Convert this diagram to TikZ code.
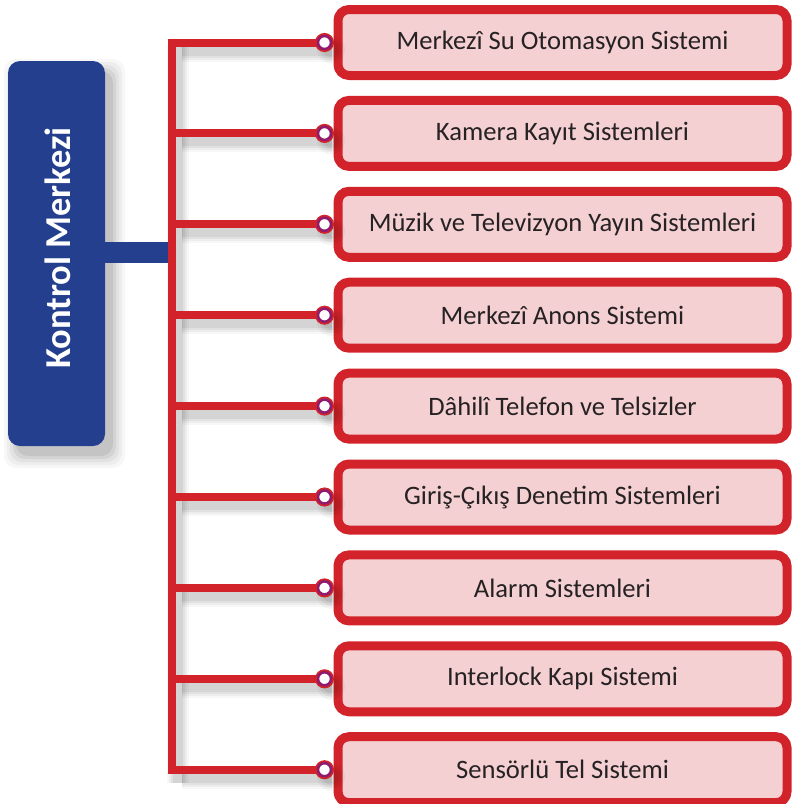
\documentclass[tikz,border=0pt]{standalone}
\usepackage{fontspec}
\setmainfont{Carlito}
\definecolor{kblue}{RGB}{35,63,142}
\definecolor{kred}{RGB}{210,35,42}
\definecolor{kpink}{RGB}{245,208,211}
\definecolor{kpurple}{RGB}{142,27,110}
\definecolor{ktext}{RGB}{38,34,35}
\begin{document}
\begin{tikzpicture}[x=1pt,y=-1pt,
  itembox/.style={draw=kred, line width=9pt, fill=kpink, rounded corners=11pt,
    minimum width=449pt, minimum height=66pt, inner sep=0pt, text=ktext,
    font=\fontsize{26.6}{30}\selectfont},
  knob/.style={circle, inner sep=0pt, minimum size=13pt, fill=white,
    draw=kpurple, line width=2.5pt, preaction={draw=kred, line width=6pt}},
  redline/.style={draw=kred, line width=8pt},
  hubbox/.style={fill=kblue, rounded corners=12pt, minimum width=97pt,
    minimum height=385pt, inner sep=0pt},
  hubtext/.style={rotate=90, text=white, inner sep=0pt,
    font=\bfseries\fontsize{36.5}{40}\selectfont},
]
\useasboundingbox (0,0) rectangle (792,804);

% shadow of the hub box
\foreach \e/\o in {0/0.08,3/0.06,6/0.05,9/0.04,12/0.03}{
  \fill[black, opacity=\o, rounded corners=12pt]
    (16-\e,71-\e) rectangle (113+\e,456+\e);
}
% shadow of connector lines
\begin{scope}[shift={(6,8)}]
  \foreach \w/\o in {22/0.03,18/0.04,14/0.05,10/0.06}{
    \draw[black, opacity=\o, line width=\w pt] (172,38) -- (172,775);
    \foreach \i in {1,...,9}{
      \pgfmathsetmacro{\yy}{42.5+90.9*(\i-1)}
      \draw[black, opacity=\o, line width=\w pt] (176,\yy) -- (326,\yy);
    }
  }
\end{scope}

% hub
\node[hubbox] (km) at (56.5,253.5) {};
\node[hubtext] (kt) at (58,248) {Kontrol Merkezi};

% items
\foreach \i/\t in {1/{Merkezî Su Otomasyon Sistemi},
                   2/{Kamera Kayıt Sistemleri},
                   3/{Müzik ve Televizyon Yayın Sistemleri},
                   4/{Merkezî Anons Sistemi},
                   5/{Dâhilî Telefon ve Telsizler},
                   6/{Giriş-Çıkış Denetim Sistemleri},
                   7/{Alarm Sistemleri},
                   8/{Interlock Kapı Sistemi},
                   9/{Sensörlü Tel Sistemi}}{
  \pgfmathsetmacro{\yy}{42.5+90.9*(\i-1)}
  \node[itembox] (b\i) at (562.5,\yy) {\t};
  \coordinate (j\i) at (172,\yy);
}

% circle shadows on boxes
\foreach \i in {1,...,9}{
  \pgfmathsetmacro{\yy}{42.5+90.9*(\i-1)}
  \foreach \r/\o in {14/0.04,11/0.05,8/0.06}{
    \fill[black, opacity=\o] (331,\yy+7) circle (\r);
  }
}

% blue link
\draw[kblue, line width=21pt] ([xshift=-6pt]km.east |- 0,252.5) -- (j1 |- 0,252.5);

% red trunk
\draw[redline, line cap=rect] (j1) -- (j9);
\foreach \i in {1,...,9}{
  \node[knob] (c\i) at (324.5,0 |- j\i) {};
  \draw[redline] (j\i) -- (c\i.west);
}
\end{tikzpicture}
\end{document}
